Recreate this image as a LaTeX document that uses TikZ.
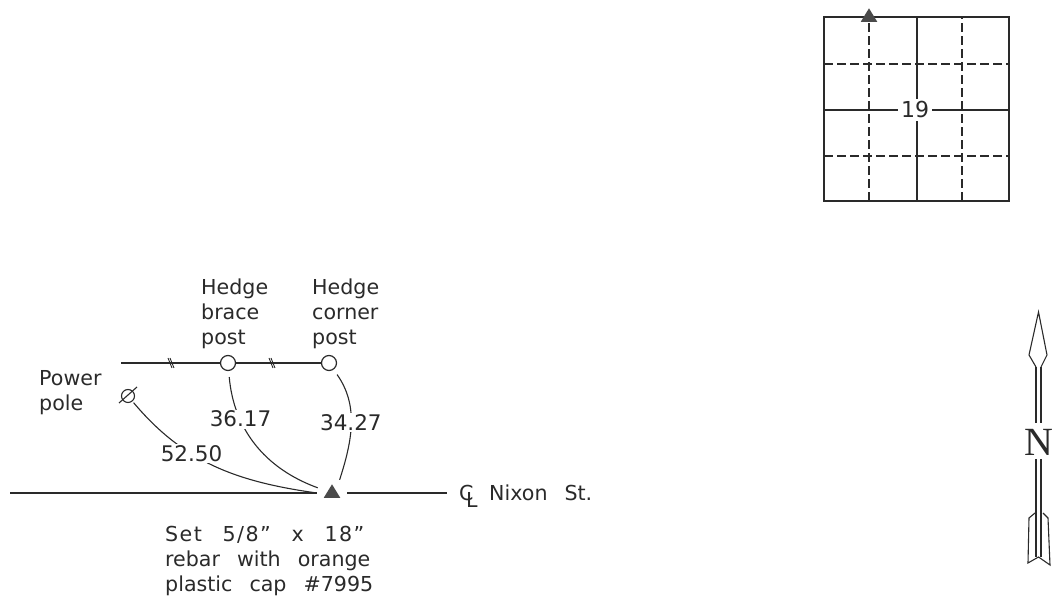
\documentclass[tikz,border=0pt]{standalone}
\usepackage{fontspec}
\setmainfont[WordSpace=2.6]{DejaVu Sans}
\newfontfamily\northfont{Liberation Serif}
\usetikzlibrary{shapes.geometric}
\definecolor{ink}{HTML}{2a2a2a}
\tikzset{
  every node/.style={text=ink, inner sep=0pt, font=\fontsize{20.6}{25}\selectfont},
  note/.style={anchor=north west, align=left},
  post/.style={draw=ink, line width=1.2pt, circle, fill=white, minimum size=15pt},
  rebar/.style={fill=ink!85, isosceles triangle, shape border rotate=90, isosceles triangle stretches,
    minimum width=16.5pt, minimum height=13.5pt, anchor=lower side},
  tie/.style={draw=ink, line width=1.1pt, shorten <=6pt},
  dist/.style={fill=white, inner sep=1.5pt, font=\fontsize{21.5}{25}\selectfont},
  grid/.style={draw=ink, line width=1.1pt},
  griddash/.style={grid, dash pattern=on 9pt off 4pt}
}
\begin{document}
\begin{tikzpicture}[x=1pt, y=1pt]
\useasboundingbox (0, 0) rectangle (1058, 599);
% section map
\draw[grid] (824, 398) rectangle (1009, 582);
\draw[griddash] (869, 398) -- (869, 582)
      (962, 398) -- (962, 582)
      (824, 535) -- (1009, 535)
      (824, 443) -- (1009, 443);
\draw[grid] (917, 398) -- (917, 582)
      (824, 489) -- (1009, 489);
\node[fill=white, inner sep=3pt, font=\fontsize{22}{24}\selectfont] (section) at (915, 489) {19};
\node[rebar] (corner) at (869, 577) {};
% posts and hedge
\node[note] (bracetext) at (201, 320) {Hedge\\brace\\post};
\node[note] (cornertext) at (312, 320) {Hedge\\corner\\post};
\node[note] (poletext) at (39, 229) {Power\\pole};
\path (121, 236) coordinate (hedge);
\path (228, 236) node[post] (brace) {}
      (329, 236) node[post] (hcorner) {}
      (128, 203) node[circle, minimum size=13pt] (pole) {}
      (332, 106) node[circle, minimum size=30pt] (pin) {}
      (10, 106) coordinate (streetw)
      (447, 106) coordinate (streete);
\draw[grid] (pole) circle (6.5pt);
\draw[grid] (119, 196) -- (137, 212);
\draw[grid] (hedge) -- (brace) -- (hcorner);
\foreach \x in {171, 272}
  \draw[ink, line width=.9pt] (\x-3, 241) -- (\x+1, 231)
        (\x-1, 241) -- (\x+3, 231);
% street
\draw[grid] (streetw) -- (pin.west)
      (pin.east) -- (streete);
\node[rebar] (setpin) at (332, 101) {};
\node[anchor=base west] (center) at (459, 98) {\rlap{C}\hspace{7pt}\raisebox{-7pt}{L}};
\node[anchor=base west] (street) at (489, 98) {Nixon St.};
\node[note] (settext) at (165, 73) {\addfontfeature{LetterSpace=7}Set 5/8” x 18”\\rebar with orange\\plastic cap \#7995};
% ties
\draw[tie, shorten <=2pt] (pole) to[out=-50, in=172] node[dist, pos=.37] {52.50} (pin.west);
\draw[tie] (brace) to[out=-85, in=160] node[dist, pos=.31] {36.17} (pin.160);
\draw[tie] (hcorner) to[out=-55, in=72] node[dist, pos=.5] {34.27} (pin.60);
% north arrow
\node[font=\northfont\fontsize{40}{40}\selectfont] (north) at (1038.5, 157) {N};
\draw[grid] (1036, 232) -- (1029, 244) -- (1038.5, 287) -- (1047, 244) -- (1041, 232);
\draw[grid] (1036, 232) -- (1036, 176) (1041, 232) -- (1041, 176)
      (1036, 140) -- (1036, 42) (1041, 140) -- (1041, 42);
\draw[grid] (1035, 86) -- (1029, 81) -- (1028, 36) -- (1038.5, 42) -- (1050, 34) -- (1048, 81) -- (1043, 86);
\end{tikzpicture}
\end{document}
